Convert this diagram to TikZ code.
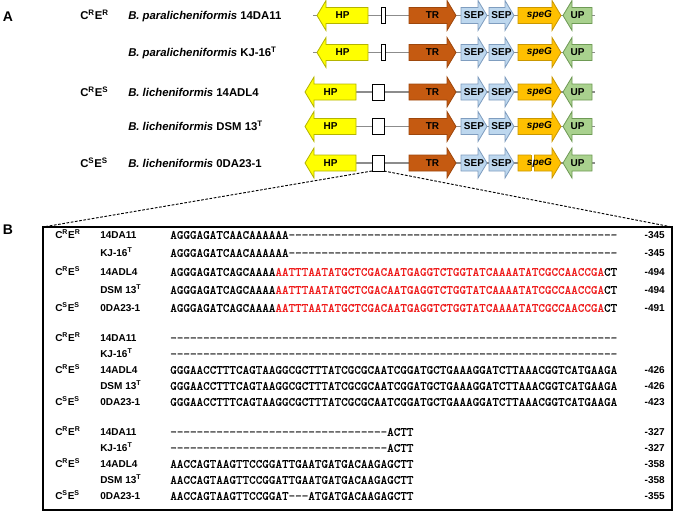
\documentclass[tikz,border=0pt]{standalone}
\usepackage{fontspec}
\setmainfont{Liberation Sans}
\newfontfamily\seqfont{Latin Modern Mono}[FakeBold=0.5]

\definecolor{hpfill}{HTML}{FFFF00}
\definecolor{hpline}{HTML}{B4B400}
\definecolor{trfill}{HTML}{C55A11}
\definecolor{trline}{HTML}{9E470C}
\definecolor{sepfill}{HTML}{BDD7EE}
\definecolor{sepline}{HTML}{7F9DBF}
\definecolor{spegfill}{HTML}{FFC000}
\definecolor{spegline}{HTML}{C99700}
\definecolor{upfill}{HTML}{A9D18E}
\definecolor{upline}{HTML}{6E9A55}
\definecolor{backbone}{HTML}{8C8C8C}
\definecolor{seqred}{HTML}{EE1C1C}

\tikzstyle{hpstyle}=[draw=hpline,fill=hpfill,line width=0.6pt]
\tikzstyle{trstyle}=[draw=trline,fill=trfill,line width=0.6pt]
\tikzstyle{sepstyle}=[draw=sepline,fill=sepfill,line width=0.6pt]
\tikzstyle{spegstyle}=[draw=spegline,fill=spegfill,line width=0.6pt]
\tikzstyle{upstyle}=[draw=upline,fill=upfill,line width=0.6pt]
\tikzstyle{genelabel}=[inner sep=0pt,font=\bfseries\fontsize{7.5}{9}\selectfont]
\tikzstyle{igrbox}=[draw,fill=white,line width=0.7pt,inner sep=0pt,outer sep=0pt,minimum height=12pt]
\tikzstyle{panel}=[inner sep=0pt,font=\bfseries\fontsize{10.5}{12}\selectfont]
\tikzstyle{species}=[anchor=west,inner sep=0pt,text height=6.1pt,text depth=0pt,font=\bfseries\fontsize{8.5}{10}\selectfont]
\tikzstyle{strain}=[anchor=west,inner sep=0pt,text height=5.4pt,text depth=0pt,font=\bfseries\fontsize{7.5}{9}\selectfont]
\tikzstyle{seqtext}=[anchor=west,inner sep=0pt,text height=5.7pt,text depth=0pt,font=\seqfont\fontsize{9.39}{10}\selectfont]
\tikzstyle{posnum}=[anchor=east,inner sep=0pt,text height=5.4pt,text depth=0pt,font=\bfseries\fontsize{7.5}{9}\selectfont]
\tikzstyle{seqframe}=[draw,line width=1.5pt,inner sep=0pt,outer sep=0pt,minimum width=471.75pt,minimum height=212.25pt]
\tikzstyle{zoomline}=[line width=0.7pt,dash pattern=on 2pt off 1.2pt]

% gene arrows, x1 x2 y style
\newcommand{\arrowR}[4]{\draw[#4] (#1,#3-8) -- (#2-9,#3-8) -- (#2-9,#3-15) -- (#2,#3) -- (#2-9,#3+15) -- (#2-9,#3+8) -- (#1,#3+8) -- cycle;}
\newcommand{\arrowL}[4]{\draw[#4] (#1,#3) -- (#1+9,#3-15) -- (#1+9,#3-8) -- (#2,#3-8) -- (#2,#3+8) -- (#1+9,#3+8) -- (#1+9,#3+15) -- cycle;}

% one locus: row, y, HP tip, box left, box width, extra
\newcommand{\locus}[6]{
  \coordinate (start#1) at (313,#2);
  \coordinate (end#1) at (595,#2);
  \draw[backbone,line width=0.8pt] (start#1) -- (end#1);
  \arrowL{#3}{#3+51}{#2}{hpstyle}
  \node[igrbox,minimum width=#5*0.75pt] (igr#1) at ({#4+#5/2},#2) {};
  \arrowR{409}{456}{#2}{trstyle}
  \arrowR{461}{487}{#2}{sepstyle}
  \arrowR{489}{514}{#2}{sepstyle}
  \arrowR{518}{561}{#2}{spegstyle}
  \arrowL{563}{592}{#2}{upstyle}
  #6
  \node[genelabel] (hp#1) at ({#3+25.5},#2) {HP};
  \node[genelabel] (tr#1) at (432.5,#2) {TR};
  \node[genelabel] (sepa#1) at (474,#2) {SEP};
  \node[genelabel] (sepb#1) at (501.5,#2) {SEP};
  \node[genelabel] (speg#1) at (539.5,#2) {\textit{speG}};
  \node[genelabel] (up#1) at (577.5,#2) {UP};
}

\newcommand{\dashrun}[1]{\foreach \k in {1,...,#1}{-}}
\newcommand{\typeRR}{C\textsuperscript{R}E\textsuperscript{R}}
\newcommand{\typeRS}{C\textsuperscript{R}E\textsuperscript{S}}
\newcommand{\typeSS}{C\textsuperscript{S}E\textsuperscript{S}}
\newcommand{\seqins}{AGGGAGATCAGCAAAA\textcolor{seqred}{AATTTAATATGCTCGACAATGAGGTCTGGTATCAAAATATCGCCAACCGA}CT}
\newcommand{\seqmid}{GGGAACCTTTCAGTAAGGCGCTTTATCGCGCAATCGGATGCTGAAAGGATCTTAAACGGTCATGAAGA}

\begin{document}
\begin{tikzpicture}[x=0.75pt,y=-0.75pt]
  \useasboundingbox (0,0) rectangle (676,512);

  % panel A
  \node[panel] (labA) at (8,17) {A};
  \locus{1}{15.5}{317}{381}{4}{}
  \locus{2}{52.5}{317}{381}{4}{}
  \locus{3}{92}{305}{372}{12}{}
  \locus{4}{126.5}{305}{372}{12}{}
  \locus{5}{163}{305}{372}{12}{
    \fill[white] (531,154.4) rectangle (534,171.6);
    \draw[spegline,line width=0.6pt] (531,155) -- (531,171) (534,155) -- (534,171);}

  \node[species] (grpA1) at (80,15.5) {\typeRR};
  \node[species] (grpA3) at (80,92) {\typeRS};
  \node[species] (grpA5) at (80,163) {\typeSS};
  \node[species] (sp1) at (128,15.5) {\textit{B. paralicheniformis} 14DA11};
  \node[species] (sp2) at (128,52.5) {\textit{B. paralicheniformis} KJ-16\textsuperscript{T}};
  \node[species] (sp3) at (128,92) {\textit{B. licheniformis} 14ADL4};
  \node[species] (sp4) at (128,126.5) {\textit{B. licheniformis} DSM 13\textsuperscript{T}};
  \node[species] (sp5) at (128,163) {\textit{B. licheniformis} 0DA23-1};

  % panel B
  \node[panel] (labB) at (8,230) {B};
  \node[seqframe] (frameB) at (357.5,368.5) {};
  \draw[zoomline] (igr5.south west) -- (frameB.north west);
  \draw[zoomline] (igr5.south east) -- (frameB.north east);

  % block 1
  \node[strain] (g11) at (55,235) {\typeRR};
  \node[strain] (g13) at (55,272) {\typeRS};
  \node[strain] (g15) at (55,308) {\typeSS};
  \node[strain] (s11) at (100,235) {14DA11};
  \node[strain] (s12) at (100,253) {KJ-16\textsuperscript{T}};
  \node[strain] (s13) at (100,272) {14ADL4};
  \node[strain] (s14) at (100,290) {DSM 13\textsuperscript{T}};
  \node[strain] (s15) at (100,308) {0DA23-1};
  \node[seqtext] (q11) at (170,235) {AGGGAGATCAACAAAAAA\dashrun{50}};
  \node[seqtext] (q12) at (170,253) {AGGGAGATCAACAAAAAA\dashrun{50}};
  \node[seqtext] (q13) at (170,272) {\seqins};
  \node[seqtext] (q14) at (170,290) {\seqins};
  \node[seqtext] (q15) at (170,308) {\seqins};
  \node[posnum] (p11) at (665,235) {-345};
  \node[posnum] (p12) at (665,253) {-345};
  \node[posnum] (p13) at (665,272) {-494};
  \node[posnum] (p14) at (665,290) {-494};
  \node[posnum] (p15) at (665,308) {-491};

  % block 2
  \node[strain] (g21) at (55,338) {\typeRR};
  \node[strain] (g23) at (55,370) {\typeRS};
  \node[strain] (g25) at (55,402) {\typeSS};
  \node[strain] (s21) at (100,338) {14DA11};
  \node[strain] (s22) at (100,354) {KJ-16\textsuperscript{T}};
  \node[strain] (s23) at (100,370) {14ADL4};
  \node[strain] (s24) at (100,386) {DSM 13\textsuperscript{T}};
  \node[strain] (s25) at (100,402) {0DA23-1};
  \node[seqtext] (q21) at (170,338) {\dashrun{68}};
  \node[seqtext] (q22) at (170,354) {\dashrun{68}};
  \node[seqtext] (q23) at (170,370) {\seqmid};
  \node[seqtext] (q24) at (170,386) {\seqmid};
  \node[seqtext] (q25) at (170,402) {\seqmid};
  \node[posnum] (p23) at (665,370) {-426};
  \node[posnum] (p24) at (665,386) {-426};
  \node[posnum] (p25) at (665,402) {-423};

  % block 3
  \node[strain] (g31) at (55,432) {\typeRR};
  \node[strain] (g33) at (55,464) {\typeRS};
  \node[strain] (g35) at (55,496) {\typeSS};
  \node[strain] (s31) at (100,432) {14DA11};
  \node[strain] (s32) at (100,448) {KJ-16\textsuperscript{T}};
  \node[strain] (s33) at (100,464) {14ADL4};
  \node[strain] (s34) at (100,480) {DSM 13\textsuperscript{T}};
  \node[strain] (s35) at (100,496) {0DA23-1};
  \node[seqtext] (q31) at (170,432) {\dashrun{33}ACTT};
  \node[seqtext] (q32) at (170,448) {\dashrun{33}ACTT};
  \node[seqtext] (q33) at (170,464) {AACCAGTAAGTTCCGGATTGAATGATGACAAGAGCTT};
  \node[seqtext] (q34) at (170,480) {AACCAGTAAGTTCCGGATTGAATGATGACAAGAGCTT};
  \node[seqtext] (q35) at (170,496) {AACCAGTAAGTTCCGGAT\dashrun{3}ATGATGACAAGAGCTT};
  \node[posnum] (p31) at (665,432) {-327};
  \node[posnum] (p32) at (665,448) {-327};
  \node[posnum] (p33) at (665,464) {-358};
  \node[posnum] (p34) at (665,480) {-358};
  \node[posnum] (p35) at (665,496) {-355};
\end{tikzpicture}
\end{document}
